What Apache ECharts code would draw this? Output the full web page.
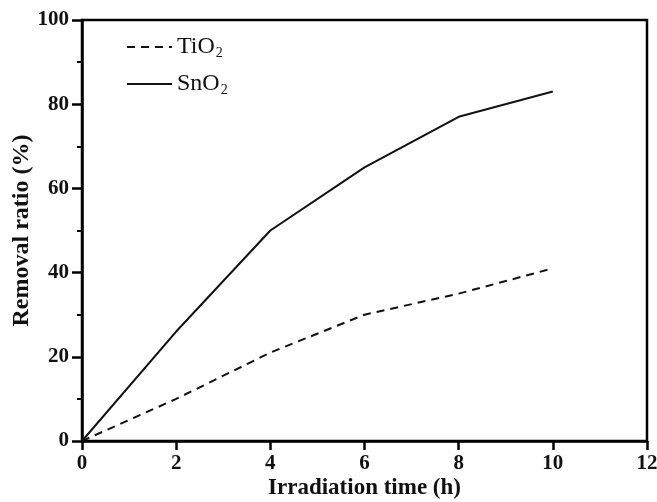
<!DOCTYPE html>
<html>
<head>
<meta charset="utf-8">
<script src="https://cdn.jsdelivr.net/npm/echarts@6/dist/echarts.min.js"></script>
<style>
  html, body { margin: 0; padding: 0; background: #fff; }
  #chart { width: 657px; height: 502px; }
</style>
</head>
<body>
<div id="chart"></div>
<script>
// irradiation time (h) and removal ratio (%)
const hours = [0, 2, 4, 6, 8, 10];
const tio2 = [0, 10, 21, 30, 35, 41];
const sno2 = [0, 26, 50, 65, 77, 83];
const xTicks = [0, 2, 4, 6, 8, 10, 12];
const yTicks = [0, 20, 40, 60, 80, 100];

const font = 'Liberation Serif';

function pairs(ys) {
    return hours.map((h, i) => [h, ys[i]]);
}

const chart = echarts.init(document.getElementById('chart'));

const option = {
    animation: false,
    grid: {
        left: 82,
        right: 10,
        top: 20,
        bottom: 61,
        outerBoundsMode: 'none',
        containLabel: false,
        show: true,
        borderColor: '#000',
        borderWidth: 2.5
    },
    legend: {
        left: 121,
        top: 27,
        orient: 'vertical',
        itemWidth: 45,
        itemHeight: 14,
        itemGap: 9,
        data: ['TiO2', 'SnO2'],
        itemStyle: { opacity: 0 },
        formatter: function(name) {
            return '{a|' + name.slice(0, -1) + '}{s|2}';
        },
        textStyle: {
            rich: {
                a: { fontFamily: font, fontSize: 24, color: '#111', lineHeight: 26 },
                s: { fontFamily: font, fontSize: 14, color: '#111', lineHeight: 26, verticalAlign: 'bottom', padding: [14, 0, 0, 1] }
            }
        }
    },
    xAxis: {
        type: 'value',
        min: 0,
        max: 12,
        interval: 2,
        name: 'Irradiation time (h)',
        nameLocation: 'middle',
        nameGap: 36,
        nameMoveOverlap: false,
        nameTextStyle: { fontFamily: font, fontWeight: 'bold', fontSize: 23, color: '#111' },
        axisLine: { lineStyle: { color: '#000', width: 2.5 } },
        axisTick: { inside: false, length: 9, lineStyle: { color: '#000', width: 2.5 } },
        axisLabel: {
            margin: 12,
            fontFamily: font,
            fontWeight: 'bold',
            fontSize: 21,
            color: '#111',
            formatter: v => xTicks.includes(v) ? String(v) : ''
        },
        splitLine: { show: false }
    },
    yAxis: {
        type: 'value',
        min: 0,
        max: 100,
        interval: 20,
        name: 'Removal ratio (%)',
        nameLocation: 'middle',
        nameGap: 48,
        nameMoveOverlap: false,
        nameTextStyle: { fontFamily: font, fontWeight: 'bold', fontSize: 24, color: '#111' },
        axisLine: { lineStyle: { color: '#000', width: 2.5 } },
        axisTick: { inside: false, length: 10, lineStyle: { color: '#000', width: 2.5 } },
        minorTick: { show: true, splitNumber: 2, length: 5, lineStyle: { color: '#000', width: 2 } },
        axisLabel: {
            margin: 13,
            fontFamily: font,
            fontWeight: 'bold',
            fontSize: 21,
            color: '#111',
            formatter: v => yTicks.includes(v) ? String(v) : ''
        },
        splitLine: { show: false }
    },
    series: [{
        name: 'TiO2',
        type: 'line',
        symbol: 'none',
        data: pairs(tio2),
        lineStyle: { color: '#111', width: 2, type: [8, 6] },
        itemStyle: { color: '#111' }
    }, {
        name: 'SnO2',
        type: 'line',
        symbol: 'none',
        data: pairs(sno2),
        lineStyle: { color: '#111', width: 2, type: 'solid' },
        itemStyle: { color: '#111' }
    }]
};

chart.setOption(option);
</script>
</body>
</html>
